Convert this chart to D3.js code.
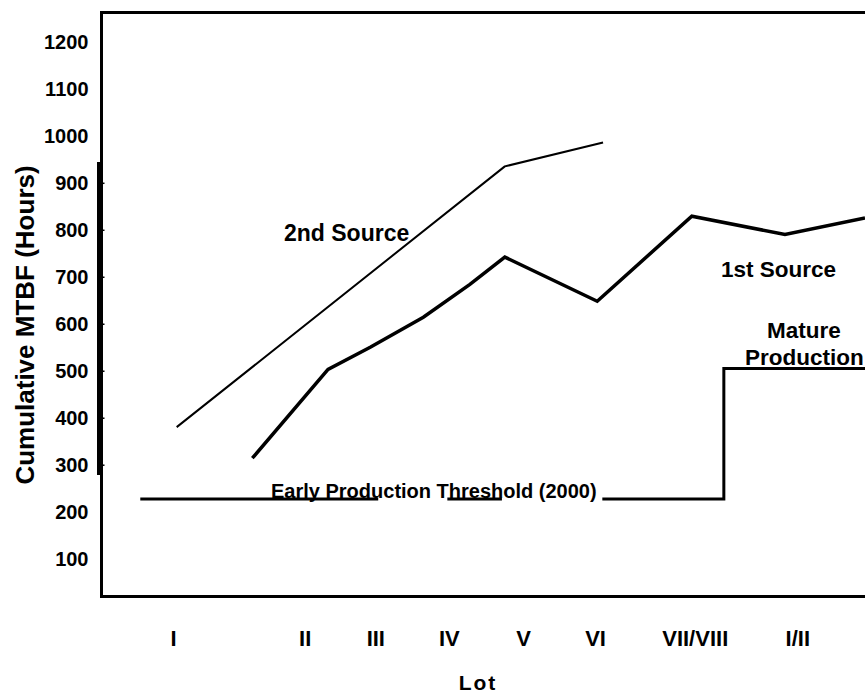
<!DOCTYPE html>
<html>
<head>
<meta charset="utf-8">
<script src="https://cdn.jsdelivr.net/npm/d3@7/dist/d3.min.js"></script>
<style>
  html, body { margin: 0; padding: 0; background: #fff; }
  svg { display: block; }
  text { font-family: "Liberation Sans", Arial, sans-serif; font-weight: bold; fill: #000; }
</style>
</head>
<body>
<script>
// ---- data ----
const lots = ["I", "II", "III", "IV", "V", "VI", "VII/VIII", "I/II"];
const lotPos = [0.99, 2.80, 3.77, 4.78, 5.80, 6.79, 8.16, 9.57];
const yTicks = [100, 200, 300, 400, 500, 600, 700, 800, 900, 1000, 1100, 1200];

const source1X = [2.08, 3.12, 3.70, 4.43, 5.07, 5.55, 6.82, 8.12, 9.40, 10.5];
const source1Y = [315, 504, 551, 615, 685, 743, 649, 830, 791, 826];

const source2X = [1.04, 5.55, 6.90];
const source2Y = [381, 936, 987];

const thresholdValue = 228;
const thresholdSegments = [[0.54, 3.81], [4.76, 5.51]];
const stepX = [6.89, 8.56, 8.56, 10.6];
const stepY = [228, 228, 506, 506];

// ---- layout ----
const W = 865, H = 695;
const xL = 101.5, yB = 596.5, yT = 12.5;

const x = d3.scaleLinear().domain([0, 10.5]).range([101, 865]);
const y = d3.scaleLinear().domain([200, 1000]).range([512.2, 136.3]);

const svg = d3.select("body").append("svg").attr("width", W).attr("height", H);

// frame
svg.append("line").attr("x1", xL).attr("y1", yT).attr("x2", W).attr("y2", yT)
  .attr("stroke", "#000").attr("stroke-width", 3);
svg.append("line").attr("x1", xL).attr("y1", yT - 1.5).attr("x2", xL).attr("y2", yB + 1.5)
  .attr("stroke", "#000").attr("stroke-width", 3);
svg.append("line").attr("x1", 98.5).attr("y1", 162).attr("x2", 98.5).attr("y2", 475)
  .attr("stroke", "#000").attr("stroke-width", 3);

// y axis
const yAxis = d3.axisLeft(y).tickValues(yTicks).tickSize(0).tickPadding(13).tickFormat(d3.format("d"));
const gy = svg.append("g").attr("transform", `translate(${xL},0)`).call(yAxis);
gy.select(".domain").remove();
gy.selectAll("text").attr("font-size", 20).style("font-family", '"Liberation Sans", Arial, sans-serif').style("font-weight", "bold");
// small inner ticks
svg.selectAll(".minor").data(yTicks.filter(v => v >= 300 && v <= 900)).enter().append("line")
  .attr("x1", xL).attr("x2", xL + 3).attr("y1", d => y(d)).attr("y2", d => y(d))
  .attr("stroke", "#000").attr("stroke-width", 1.5);

// x axis
const xAxis = d3.axisBottom(x).tickValues(lotPos).tickFormat((d, i) => lots[i]).tickSize(0).tickPadding(34).tickSizeOuter(0);
const gx = svg.append("g").attr("transform", `translate(0,${yB})`).call(xAxis);
gx.select(".domain").attr("stroke", "#000").attr("stroke-width", 3).attr("d", `M${xL - 1.5},0H${W}`);
gx.selectAll("text").attr("font-size", 22).style("font-family", '"Liberation Sans", Arial, sans-serif').style("font-weight", "bold");

// axis titles
svg.append("text").attr("x", 478).attr("y", 690).attr("text-anchor", "middle")
  .attr("font-size", 21).attr("letter-spacing", 2).text("Lot");
svg.append("text").attr("transform", "translate(34,325) rotate(-90)").attr("text-anchor", "middle")
  .attr("font-size", 26).text("Cumulative MTBF (Hours)");

const line = d3.line().x(d => x(d[0])).y(d => y(d[1]));

// threshold
thresholdSegments.forEach(s => {
  svg.append("path").attr("d", line([[s[0], thresholdValue], [s[1], thresholdValue]]))
    .attr("fill", "none").attr("stroke", "#000").attr("stroke-width", 3);
});
svg.append("path").attr("d", line(stepX.map((v, i) => [v, stepY[i]])))
  .attr("fill", "none").attr("stroke", "#000").attr("stroke-width", 3);

// series
svg.append("path").attr("d", line(source2X.map((v, i) => [v, source2Y[i]])))
  .attr("fill", "none").attr("stroke", "#000").attr("stroke-width", 2).attr("stroke-linejoin", "round");
svg.append("path").attr("d", line(source1X.map((v, i) => [v, source1Y[i]])))
  .attr("fill", "none").attr("stroke", "#000").attr("stroke-width", 3.5).attr("stroke-linejoin", "miter");

// annotations
svg.append("text").attr("x", 271).attr("y", 498).attr("font-size", 20).text("Early Production Threshold (2000)");
svg.append("text").attr("x", 284).attr("y", 241).attr("font-size", 23).text("2nd Source");
svg.append("text").attr("x", 721).attr("y", 277).attr("font-size", 22.5).text("1st Source");
svg.append("text").attr("x", 804).attr("y", 338).attr("text-anchor", "middle").attr("font-size", 22.5).text("Mature");
svg.append("text").attr("x", 745).attr("y", 365).attr("font-size", 22.5).text("Production");
</script>
</body>
</html>
